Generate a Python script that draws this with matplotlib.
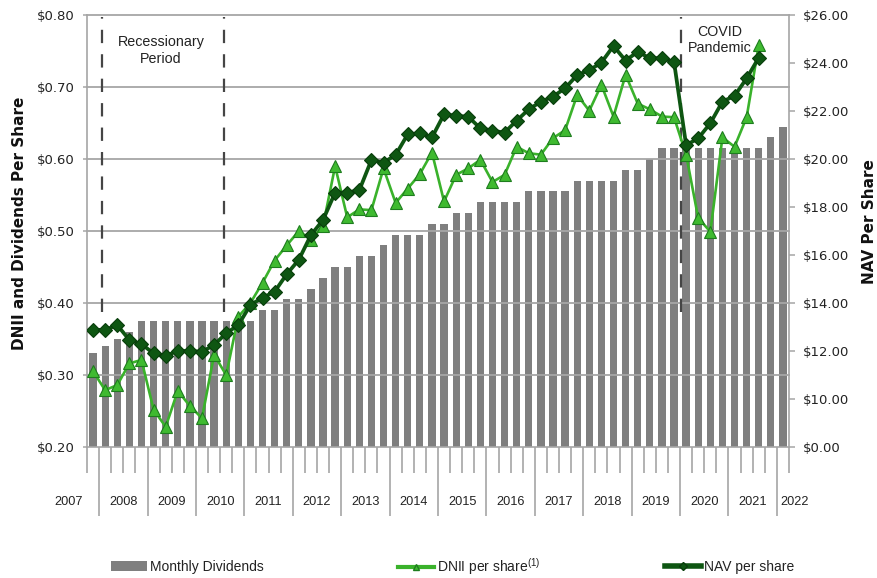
import numpy as np
import matplotlib
matplotlib.use("Agg")
import matplotlib.pyplot as plt
import matplotlib.font_manager as fm
from matplotlib.lines import Line2D
from matplotlib.patches import Patch
from matplotlib.transforms import blended_transform_factory, offset_copy

# ---------------- data ----------------
years = [2007, 2008, 2009, 2010, 2011, 2012, 2013, 2014,
         2015, 2016, 2017, 2018, 2019, 2020, 2021, 2022]
quarters_in_year = [1, 4, 4, 4, 4, 4, 4, 4, 4, 4, 4, 4, 4, 4, 4, 1]

dividends = [0.33, 0.34, 0.35, 0.36,
             0.375, 0.375, 0.375, 0.375, 0.375, 0.375, 0.375, 0.375, 0.375, 0.375,
             0.39, 0.39, 0.405, 0.405, 0.42, 0.435, 0.45, 0.45, 0.465, 0.465,
             0.48, 0.495, 0.495, 0.495, 0.51, 0.51, 0.525, 0.525,
             0.54, 0.54, 0.54, 0.54, 0.555, 0.555, 0.555, 0.555,
             0.57, 0.57, 0.57, 0.57, 0.585, 0.585, 0.60,
             0.615, 0.615, 0.615, 0.615, 0.615, 0.615, 0.615, 0.615, 0.615,
             0.63, 0.645]

dnii = [0.305, 0.279, 0.286, 0.316, 0.321, 0.252, 0.228, 0.278, 0.257, 0.240,
        0.328, 0.300, 0.381, 0.400, 0.428, 0.459, 0.480, 0.500, 0.488, 0.507,
        0.590, 0.519, 0.530, 0.529, 0.587, 0.539, 0.559, 0.579, 0.609, 0.541,
        0.578, 0.587, 0.599, 0.568, 0.578, 0.617, 0.608, 0.606, 0.629, 0.640,
        0.689, 0.667, 0.703, 0.659, 0.717, 0.677, 0.669, 0.659, 0.658, 0.606,
        0.518, 0.499, 0.630, 0.617, 0.658, 0.758]

nav = [12.88, 12.88, 13.08, 12.46, 12.29, 11.90, 11.80, 12.00, 12.00, 11.97,
       12.25, 12.74, 13.08, 13.92, 14.22, 14.47, 15.20, 15.80, 16.83, 17.46,
       18.60, 18.60, 18.70, 19.96, 19.85, 20.17, 21.03, 21.07, 20.90, 21.86,
       21.80, 21.76, 21.28, 21.18, 21.10, 21.60, 22.07, 22.39, 22.60, 22.95,
       23.50, 23.70, 24.02, 24.71, 24.10, 24.47, 24.20, 24.20, 24.05, 20.58,
       20.86, 21.49, 22.39, 22.63, 23.36, 24.22]

left_ticks = [0.20, 0.30, 0.40, 0.50, 0.60, 0.70, 0.80]
right_ticks = [8, 10, 12, 14, 16, 18, 20, 22, 24, 26]
right_tick_labels = ["$0.00", "$10.00", "$12.00", "$14.00", "$16.00", "$18.00",
                     "$20.00", "$22.00", "$24.00", "$26.00"]

recession_bounds = [0.75, 10.85]
covid_start = 48.6

# ---------------- fonts ----------------
names = {f.name for f in fm.fontManager.ttflist}
NARROW = "Liberation Sans Narrow" in names
if NARROW:
    narrow = dict(family="Liberation Sans Narrow")
    year_fs, legend_fs, annot_fs = 11, 12, 12
else:
    narrow = dict(family="Liberation Sans")
    year_fs, legend_fs, annot_fs = 9.2, 10, 10.3

plt.rcParams["font.family"] = ["DejaVu Sans"]

W, H = 877, 578
fig = plt.figure(figsize=(W / 100, H / 100), dpi=100)
L, R, T, B = 87, 789, 15, 447
ax = fig.add_axes([L / W, 1 - B / H, (R - L) / W, (B - T) / H])

GRID = "#a6a6a6"
x = np.arange(len(dividends))

# bars
ax.bar(x, dividends, width=0.6, color="#7f7f7f", zorder=1)

ax.set_xlim(-0.5, len(dividends) - 0.5)
ax.set_ylim(0.2, 0.8)

# gridlines (over bars)
for v in left_ticks[1:]:
    ax.axhline(v, color=GRID, lw=1.3, zorder=1.5, clip_on=False)

# dashed period markers
for xb in recession_bounds + [covid_start]:
    ax.plot([xb, xb], [0.388, 0.797], color="#454545", lw=1.6,
            linestyle=(0, (6, 5)), zorder=2.2)

# DNII line
ax.plot(x[:len(dnii)], dnii, color="#3ab22b", lw=1.9, marker="^", markersize=8.5,
        markerfacecolor="#3fba30", markeredgecolor="#1e7d1e", markeredgewidth=0.8,
        zorder=3)

# left axis styling
ax.set_yticks(left_ticks)
ax.set_yticklabels([f"${v:.2f}" for v in left_ticks], fontsize=9.5, color="#222222")
ax.tick_params(axis="y", length=3, color=GRID, width=1.1, pad=6)
for s in ["top", "right"]:
    ax.spines[s].set_visible(False)
for s in ["left", "bottom"]:
    ax.spines[s].set_color(GRID)
    ax.spines[s].set_linewidth(1.2)

# x ticks: year boundaries (long) and quarter boundaries (short)
cum = np.cumsum(quarters_in_year)
year_bounds = [c - 0.5 for c in cum[:-1]]
all_bounds = [k - 0.5 for k in range(len(dividends) + 1)]
quarter_bounds = [b for b in all_bounds if b not in year_bounds]
ax.set_xticks(year_bounds)
ax.set_xticks(quarter_bounds, minor=True)
ax.tick_params(axis="x", which="major", length=50, width=1.2, color=GRID,
               labelbottom=False, direction="out")
ax.tick_params(axis="x", which="minor", length=19, width=1.2, color=GRID,
               labelbottom=False, direction="out")

# year labels
trans = blended_transform_factory(ax.transData, ax.transAxes)
starts = np.concatenate([[0], cum[:-1]])
for yr, s, n in zip(years, starts, quarters_in_year):
    if n == 4:
        ax.text(s + 1.5, -0.128, str(yr), transform=trans, ha="center", va="center",
                fontsize=year_fs, color="#222222", **narrow)
    elif s == 0:
        t = offset_copy(trans, fig=fig, x=-4, y=0, units="dots")
        ax.text(s - 0.5, -0.128, str(yr), transform=t, ha="right", va="center",
                fontsize=year_fs, color="#222222", **narrow)
    else:
        t = offset_copy(trans, fig=fig, x=3, y=0, units="dots")
        ax.text(s - 0.5, -0.128, str(yr), transform=t, ha="left", va="center",
                fontsize=year_fs, color="#222222", **narrow)

# right axis (NAV)
ax2 = ax.twinx()
ax2.set_ylim(8, 26)
ax2.set_yticks(right_ticks)
ax2.set_yticklabels(right_tick_labels, fontsize=9.5, color="#222222")
ax2.tick_params(axis="y", length=4, color=GRID, width=1.1, pad=6)
for s in ["top", "left", "bottom"]:
    ax2.spines[s].set_visible(False)
ax2.spines["right"].set_color(GRID)
ax2.spines["right"].set_linewidth(1.2)

ax2.plot(x[:len(nav)], nav, color="#0e5612", lw=2.7, marker="D", markersize=7,
         markerfacecolor="#0e5612", markeredgecolor="#083d0b", markeredgewidth=0.8,
         zorder=4)

# annotations
ax.text(5.6, 0.751, "Recessionary\nPeriod", ha="center", va="center",
        fontsize=annot_fs, color="#222222", linespacing=1.25, zorder=5, **narrow)
ax2.text(51.8, 8 + (447 - 40) / 24.0, "COVID\nPandemic", ha="center", va="center",
         fontsize=annot_fs, color="#222222", linespacing=1.25, zorder=3, **narrow)

# axis titles
fig.text(20 / W, 1 - 223 / H, "DNII and Dividends Per Share", rotation=90,
         ha="center", va="center", fontsize=11, fontweight="bold", color="#111111")
fig.text(869 / W, 1 - 222 / H, "NAV Per Share", rotation=90,
         ha="center", va="center", fontsize=11, fontweight="bold", color="#111111")

# legend (three separate entries spread across the bottom)
ly = 1 - 567 / H
h1 = Patch(facecolor="#7f7f7f", edgecolor="none")
h2 = Line2D([], [], color="#3ab22b", lw=3, marker="^", markersize=5,
            markerfacecolor="#3fba30", markeredgecolor="#1e7d1e")
h3 = Line2D([], [], color="#0e5612", lw=4, marker="D", markersize=4,
            markerfacecolor="#0e5612", markeredgecolor="#083d0b")
entries = [(h1, "Monthly Dividends", 111),
           (h2, "DNII per share$^{\\mathregular{(1)}}$", 398),
           (h3, "NAV per share", 665)]
for h, lab, x0 in entries:
    leg = fig.legend(handles=[h], labels=[lab], loc="center left",
                     bbox_to_anchor=(x0 / W, ly), frameon=False,
                     borderpad=0, borderaxespad=0, handlelength=2.6,
                     handletextpad=0.2, prop=dict(size=legend_fs, **narrow))
    for t in leg.get_texts():
        t.set_color("#222222")

fig.savefig("out.png", dpi=100)
